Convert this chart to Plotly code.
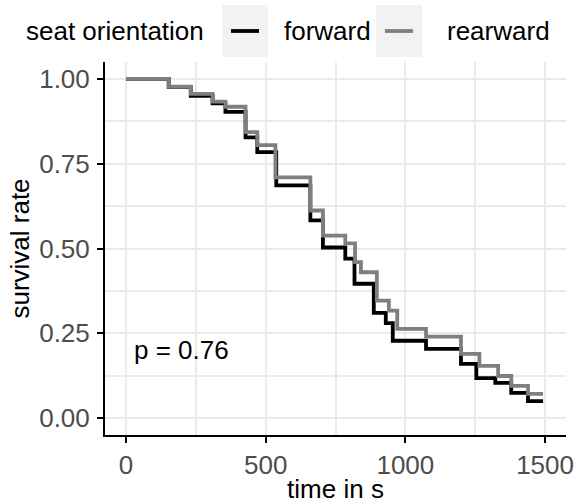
import plotly.graph_objects as go

# ---- data ----
forward_t = [0, 153, 232, 310, 356, 428, 470, 538, 660, 705, 785, 818, 887, 930, 955, 1074, 1199, 1254, 1322, 1379, 1439, 1493]
forward_s = [1.0, 0.976, 0.950, 0.928, 0.903, 0.828, 0.784, 0.686, 0.583, 0.503, 0.470, 0.396, 0.310, 0.280, 0.228, 0.204, 0.160, 0.118, 0.104, 0.074, 0.050, 0.050]

rearward_t = [0, 153, 232, 310, 356, 428, 470, 535, 660, 705, 785, 820, 841, 898, 941, 971, 1074, 1199, 1265, 1332, 1379, 1439, 1493]
rearward_s = [1.0, 0.977, 0.956, 0.933, 0.918, 0.843, 0.805, 0.710, 0.612, 0.538, 0.515, 0.460, 0.430, 0.346, 0.317, 0.263, 0.240, 0.189, 0.154, 0.124, 0.095, 0.071, 0.071]

series_names = ["forward", "rearward"]
series_colors = ["#000000", "#7F7F7F"]
legend_title = "seat orientation"
x_ticks = [0, 500, 1000, 1500]
y_ticks = [0.0, 0.25, 0.5, 0.75, 1.0]
y_ticklabels = ["0.00", "0.25", "0.50", "0.75", "1.00"]
p_label = "p = 0.76"
p_pos = (200, 0.2)

FONT = "Liberation Sans, Arial, sans-serif"
W, H = 576, 504
ML, MR, MT, MB = 105, 10, 62, 69
PW, PH = W - ML - MR, H - MT - MB

def px_x(p):
    return (p - ML) / PW

def px_y(p):
    return (H - MB - p) / PH

fig = go.Figure()
for t, s, name, col in [(forward_t, forward_s, series_names[0], series_colors[0]),
                        (rearward_t, rearward_s, series_names[1], series_colors[1])]:
    fig.add_trace(go.Scatter(x=t, y=s, mode="lines", name=name,
                             line=dict(color=col, width=3.8, shape="hv"),
                             showlegend=False))

# p-value annotation
fig.add_annotation(x=p_pos[0], y=p_pos[1], xref="x", yref="y", text=p_label,
                   showarrow=False, font=dict(family=FONT, size=26, color="#000000"))

# ---- manual legend (top) ----
leg_cy = 31
fig.add_annotation(x=px_x(24), y=px_y(leg_cy), xref="paper", yref="paper",
                   xanchor="left", yanchor="middle", text=legend_title, showarrow=False,
                   font=dict(family=FONT, size=26, color="#000000"))
keys = [(222, 282), (376, 445)]
for (bx, tx), name, col in zip(keys, series_names, series_colors):
    fig.add_shape(type="rect", xref="paper", yref="paper",
                  x0=px_x(bx), x1=px_x(bx + 46), y0=px_y(57), y1=px_y(5),
                  fillcolor="#F2F2F2", line=dict(width=0), layer="above")
    fig.add_shape(type="line", xref="paper", yref="paper",
                  x0=px_x(bx + 9), x1=px_x(bx + 37), y0=px_y(leg_cy), y1=px_y(leg_cy),
                  line=dict(color=col, width=3.8), layer="above")
    fig.add_annotation(x=px_x(tx), y=px_y(leg_cy), xref="paper", yref="paper",
                       xanchor="left", yanchor="middle", text=name, showarrow=False,
                       font=dict(family=FONT, size=26, color="#000000"))

grid = "#EBEBEB"
fig.update_layout(
    width=W, height=H,
    margin=dict(l=ML, r=MR, t=MT, b=MB, pad=0, autoexpand=False),
    paper_bgcolor="white", plot_bgcolor="white",
    font=dict(family=FONT, size=26, color="#000000"),
    xaxis=dict(range=[-75, 1575], tickmode="array", tickvals=x_ticks,
               ticktext=[str(v) for v in x_ticks], automargin=False,
               showgrid=True, gridcolor=grid, gridwidth=2,
               minor=dict(dtick=250, tick0=0, showgrid=True, gridcolor=grid, gridwidth=1.5),
               zeroline=False, showline=True, linecolor="#000000", linewidth=2,
               ticks="outside", ticklen=6, tickwidth=2, tickcolor="#000000",
               tickfont=dict(family=FONT, size=26, color="#4D4D4D"),
               title=dict(text="time in s", standoff=4,
                          font=dict(family=FONT, size=26, color="#000000"))),
    yaxis=dict(range=[-0.05, 1.05], tickmode="array", tickvals=y_ticks,
               ticktext=y_ticklabels, automargin=False,
               showgrid=True, gridcolor=grid, gridwidth=2,
               minor=dict(dtick=0.125, tick0=0, showgrid=True, gridcolor=grid, gridwidth=1.5),
               zeroline=False, showline=True, linecolor="#000000", linewidth=2,
               ticks="outside", ticklen=6, tickwidth=2, tickcolor="#000000",
               ticklabelstandoff=2,
               tickfont=dict(family=FONT, size=26, color="#4D4D4D"),
               title=dict(text="survival rate", standoff=2,
                          font=dict(family=FONT, size=26, color="#000000"))),
)

fig.write_html("out.html")
